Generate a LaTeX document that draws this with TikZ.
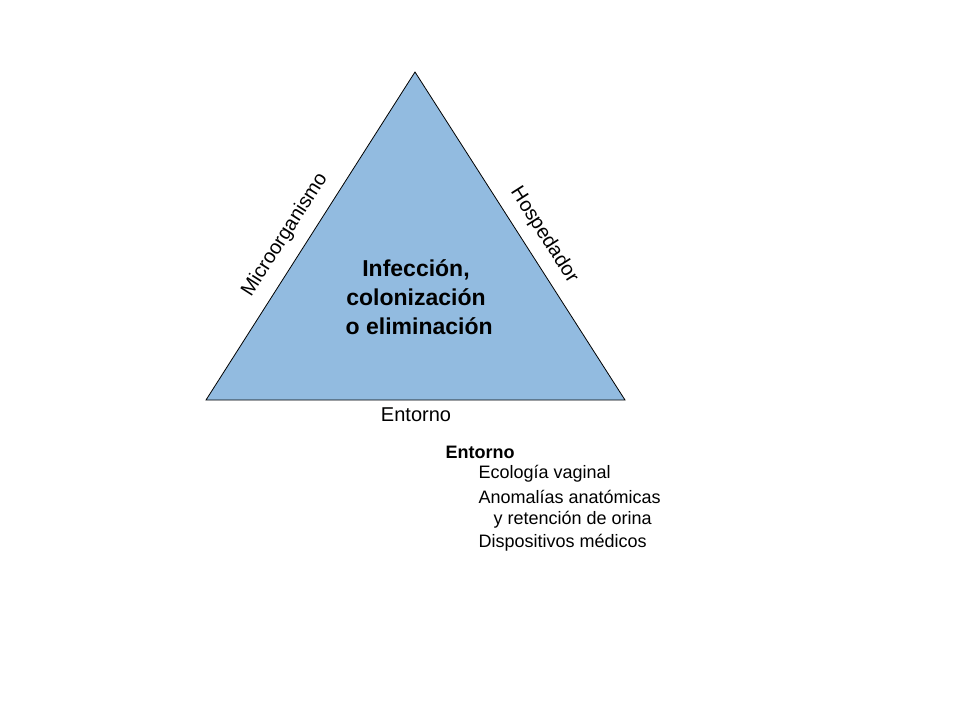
\documentclass[tikz,border=0pt]{standalone}
\usepackage{fontspec}
\setmainfont{Liberation Sans}
\definecolor{triblue}{RGB}{146,187,224}
\begin{document}
\begin{tikzpicture}[x=1pt,y=-1pt,
  side/.style={font=\fontsize{20}{22}\selectfont},
  item/.style={anchor=west,font=\fontsize{18}{20}\selectfont}]
\useasboundingbox (0,0) rectangle (960,720);
% triangle
\coordinate (top) at (415,72);
\coordinate (bl) at (206,400);
\coordinate (br) at (625,400);
\draw[fill=triblue, line width=0.8pt] (top) -- (bl) -- (br) -- cycle;
% labels
\node[font=\bfseries\fontsize{23}{29}\selectfont, align=center] (centre) at (416,297)
  {Infección,\\colonización\\\ o eliminación};
\node[side, rotate=57.5] (micro) at (285,235) {Microorganismo};
\node[side, rotate=-57.5] (host) at (544,235) {Hospedador};
\node[side] (env) at (416,415) {Entorno};
% list
\node[item, font=\bfseries\fontsize{18}{20}\selectfont] (head) at (442,452) {Entorno};
\node[item] (i1) at (475,474) {Ecología vaginal};
\node[item] (i2) at (475,497) {Anomalías anatómicas};
\node[item] (i3) at (490,520) {y retención de orina};
\node[item] (i4) at (475,543) {Dispositivos médicos};
\end{tikzpicture}
\end{document}
